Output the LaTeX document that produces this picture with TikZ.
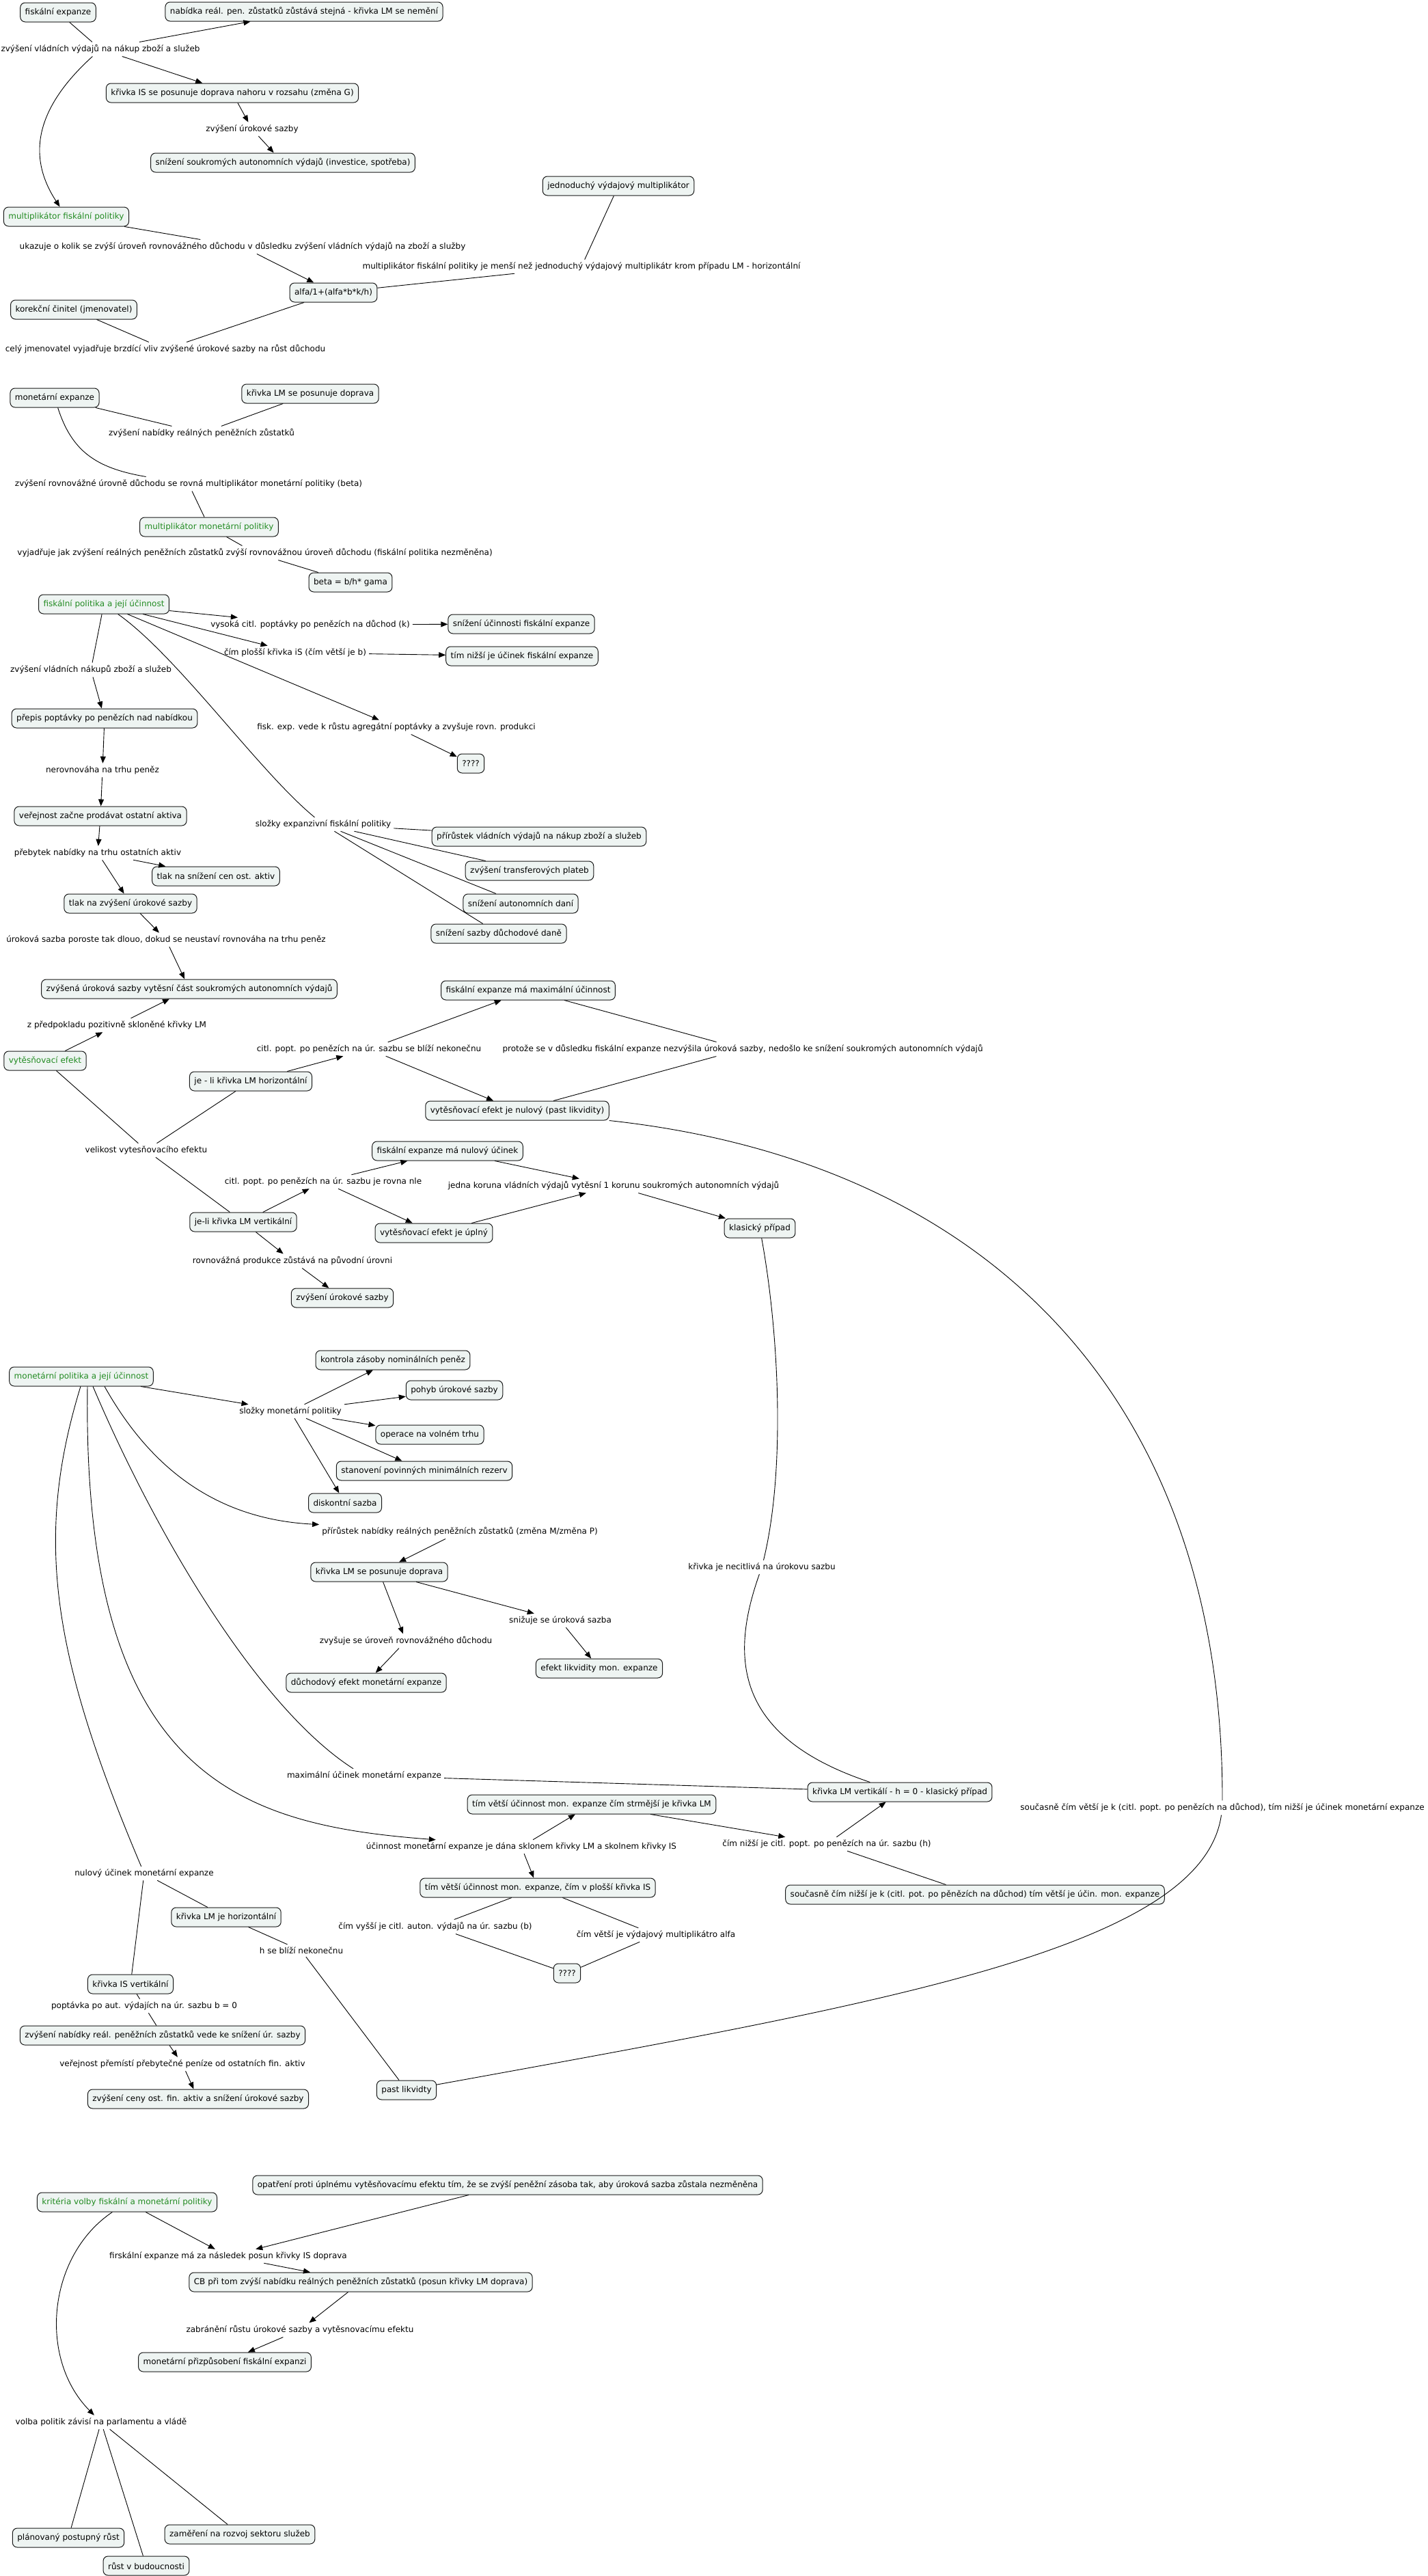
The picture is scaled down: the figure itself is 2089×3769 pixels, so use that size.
\documentclass[tikz,border=0pt]{standalone}
\usepackage{fontspec}
\setmainfont{DejaVu Sans}
\usetikzlibrary{arrows.meta}
\definecolor{boxfill}{RGB}{238,244,242}
\definecolor{topicgreen}{RGB}{34,139,34}

\begin{document}
\begin{tikzpicture}[x=1pt,y=-1pt,
        concept/.style={draw=black!90,fill=boxfill,rounded corners=7pt,line width=1pt,inner xsep=7pt,minimum height=28pt,font=\fontsize{12}{14}\selectfont},
        topic/.style={concept,text=topicgreen},
        link/.style={inner sep=4pt,font=\fontsize{12}{14}\selectfont},
        con/.style={line width=0.9pt},
        arr/.style={con,-{Triangle[length=10pt,width=8pt]}}]
        \useasboundingbox (0,0) rectangle (2089,3769);
        % fiskalni expanze
        \node[concept] (fe) at (85,18) {fiskální expanze};
        \node[concept] (nab) at (445,17) {nabídka reál. pen. zůstatků zůstává stejná - křivka LM se nemění};
        \node[link] (lzvys) at (147,72) {zvýšení vládních výdajů na nákup zboží a služeb};
        \node[concept] (ispos) at (340,136) {křivka IS se posunuje doprava nahoru v rozsahu (změna G)};
        \node[link] (lurok) at (369,189) {zvýšení úrokové sazby};
        \node[concept] (sniz) at (414,238) {snížení soukromých autonomních výdajů (investice, spotřeba)};
        \node[topic] (mfp) at (97,317) {multiplikátor fiskální politiky};
        \node[link] (lukaz) at (355,361) {ukazuje o kolik se zvýší úroveň rovnovážného důchodu v důsledku zvýšení vládních výdajů na zboží a služby};
        \node[concept] (alfa) at (488,428) {alfa/1+(alfa*b*k/h)};
        \node[link] (lmfpm) at (851,390) {multiplikátor fiskální politiky je menší než jednoduchý výdajový multiplikátr krom případu LM - horizontální};
        \node[concept] (jvm) at (905,272) {jednoduchý výdajový multiplikátor};
        \node[concept] (kc) at (108,453) {korekční činitel (jmenovatel)};
        \node[link] (lcely) at (242,511) {celý jmenovatel vyjadřuje brzdící vliv zvýšené úrokové sazby na růst důchodu};
        \draw[con] (fe) -- (lzvys);
        \draw[arr] (lzvys) -- (nab);
        \draw[arr] (lzvys) -- (ispos);
        \draw[arr] (lzvys) .. controls (50,160) and (40,230) .. (mfp);
        \draw[arr] (ispos) -- (lurok);
        \draw[arr] (lurok) -- (sniz);
        \draw[con] (mfp) -- (lukaz);
        \draw[arr] (lukaz) -- (alfa);
        \draw[con] (alfa) -- (lmfpm);
        \draw[con] (lmfpm) -- (jvm);
        \draw[con] (kc) -- (lcely);
        \draw[con] (alfa) -- (lcely);
        % monetarni expanze
        \node[concept] (me) at (80,582) {monetární expanze};
        \node[concept] (lmd1) at (454,576) {křivka LM se posunuje doprava};
        \node[link] (lzvn) at (295,634) {zvýšení nabídky reálných peněžních zůstatků};
        \node[link] (lzvr) at (276,708) {zvýšení rovnovážné úrovně důchodu se rovná multiplikátor monetární politiky (beta)};
        \node[topic] (mmp) at (306,771) {multiplikátor monetární politiky};
        \node[link] (lvyj) at (373,809) {vyjadřuje jak zvýšení reálných peněžních zůstatků zvýší rovnovážnou úroveň důchodu (fiskální politika nezměněna)};
        \node[concept] (beta) at (513,852) {beta = b/h* gama};
        \draw[con] (me) -- (lzvn);
        \draw[con] (lmd1) -- (lzvn);
        \draw[con] (me) .. controls (105,660) and (140,685) .. (lzvr);
        \draw[con] (lzvr) -- (mmp);
        \draw[con] (mmp) -- (lvyj);
        \draw[con] (lvyj) -- (beta);
        % fiskalni politika
        \node[topic] (fp) at (152,884) {fiskální politika a její účinnost};
        \node[link] (lvys) at (454,914) {vysoká citl. poptávky po penězích na důchod (k)};
        \node[concept] (snuc) at (763,913) {snížení účinnosti fiskální expanze};
        \node[link] (lcim) at (432,955) {čím plošší křivka iS (čím větší je b)};
        \node[concept] (tnu) at (764,960) {tím nižší je účinek fiskální expanze};
        \node[link] (lzvn2) at (133,980) {zvýšení vládních nákupů zboží a služeb};
        \node[concept] (prep) at (153,1051) {přepis poptávky po penězích nad nabídkou};
        \node[link] (lnerov) at (150,1127) {nerovnováha na trhu peněz};
        \node[concept] (ver) at (147,1194) {veřejnost začne prodávat ostatní aktiva};
        \node[link] (lpreb) at (143,1248) {přebytek nabídky na trhu ostatních aktiv};
        \node[concept] (tlak1) at (316,1282) {tlak na snížení cen ost. aktiv};
        \node[concept] (tlak2) at (191,1322) {tlak na zvýšení úrokové sazby};
        \node[link] (lurp) at (243,1375) {úroková sazba poroste tak dlouo, dokud se neustaví rovnováha na trhu peněz};
        \node[concept] (zvu) at (277,1447) {zvýšená úroková sazby vytěsní část soukromých autonomních výdajů};
        \node[link] (lzpred) at (171,1500) {z předpokladu pozitivně skloněné křivky LM};
        \node[topic] (vyt) at (66,1552) {vytěsňovací efekt};
        \node[link] (lfisk) at (580,1064) {fisk. exp. vede k růstu agregátní poptávky a zvyšuje rovn. produkci};
        \node[concept] (qa) at (689,1117) {????};
        \node[link] (lslozky) at (473,1206) {složky expanzivní fiskální politiky};
        \node[concept] (pri) at (789,1224) {přírůstek vládních výdajů na nákup zboží a služeb};
        \node[concept] (tra) at (775,1274) {zvýšení transferových plateb};
        \node[concept] (sad) at (762,1322) {snížení autonomních daní};
        \node[concept] (ssd) at (730,1366) {snížení sazby důchodové daně};
        \draw[arr] (fp) -- (lvys);
        \draw[arr] (lvys) -- (snuc);
        \draw[arr] (fp) -- (lcim);
        \draw[arr] (lcim) -- (tnu);
        \draw[con] (fp) -- (lzvn2);
        \draw[arr] (lzvn2) -- (prep);
        \draw[arr] (prep) -- (lnerov);
        \draw[arr] (lnerov) -- (ver);
        \draw[arr] (ver) -- (lpreb);
        \draw[arr] (lpreb) -- (tlak1);
        \draw[arr] (lpreb) -- (tlak2);
        \draw[arr] (tlak2) -- (lurp);
        \draw[arr] (lurp) -- (zvu);
        \draw[arr] (vyt) -- (lzpred);
        \draw[arr] (lzpred) -- (zvu);
        \draw[arr] (fp) -- (lfisk);
        \draw[arr] (lfisk) -- (qa);
        \draw[con] (fp) .. controls (260,960) and (380,1130) .. (lslozky);
        \draw[con] (lslozky) -- (pri);
        \draw[con] (lslozky) -- (tra);
        \draw[con] (lslozky) -- (sad);
        \draw[con] (lslozky) -- (ssd);
        % velikost vytesnovaciho efektu
        \node[concept] (fmax) at (773,1449) {fiskální expanze má maximální účinnost};
        \node[link] (lcitl1) at (540,1535) {citl. popt. po penězích na úr. sazbu se blíží nekonečnu};
        \node[link] (lprot) at (1087,1535) {protože se v důsledku fiskální expanze nezvýšila úroková sazby, nedošlo ke snížení soukromých autonomních výdajů};
        \node[concept] (jelh) at (367,1582) {je - li křivka LM horizontální};
        \node[concept] (vnul) at (757,1625) {vytěsňovací efekt je nulový (past likvidity)};
        \node[link] (lvel) at (214,1683) {velikost vytesňovacího efektu};
        \node[concept] (fnul) at (655,1684) {fiskální expanze má nulový účinek};
        \node[link] (lcitl2) at (473,1729) {citl. popt. po penězích na úr. sazbu je rovna nle};
        \node[link] (ljedna) at (898,1735) {jedna koruna vládních výdajů vytěsní 1 korunu soukromých autonomních výdajů};
        \node[concept] (jelv) at (356,1788) {je-li křivka LM vertikální};
        \node[concept] (vupl) at (635,1804) {vytěsňovací efekt je úplný};
        \node[concept] (klas) at (1112,1797) {klasický případ};
        \node[link] (lrovp) at (428,1845) {rovnovážná produkce zůstává na původní úrovni};
        \node[concept] (zus) at (501,1899) {zvýšení úrokové sazby};
        \node[link] (lkriv) at (1115,2293) {křivka je necitlivá na úrokovu sazbu};
        \node[link] (lsoucas) at (1789,2645) {současně čím větší je k (citl. popt. po penězích na důchod), tím nižší je účinek monetární expanze};
        \draw[con] (vyt) -- (lvel);
        \draw[con] (jelh) -- (lvel);
        \draw[con] (lvel) -- (jelv);
        \draw[arr] (jelh) -- (lcitl1);
        \draw[arr] (lcitl1) -- (fmax);
        \draw[arr] (lcitl1) -- (vnul);
        \draw[con] (fmax) -- (lprot);
        \draw[con] (vnul) -- (lprot);
        \draw[arr] (jelv) -- (lcitl2);
        \draw[arr] (lcitl2) -- (fnul);
        \draw[arr] (lcitl2) -- (vupl);
        \draw[arr] (fnul) -- (ljedna);
        \draw[arr] (vupl) -- (ljedna);
        \draw[arr] (ljedna) -- (klas);
        \draw[arr] (jelv) -- (lrovp);
        \draw[arr] (lrovp) -- (zus);
        \draw[con] (vnul) .. controls (1450,1700) and (1790,2050) .. (lsoucas);
        \draw[con] (klas) .. controls (1140,1950) and (1150,2150) .. (lkriv);
        % monetarni politika
        \node[topic] (mp) at (119,2014) {monetární politika a její účinnost};
        \node[link] (lslm) at (425,2065) {složky monetární politiky};
        \node[concept] (kzn) at (575,1990) {kontrola zásoby nominálních peněz};
        \node[concept] (pus) at (665,2034) {pohyb úrokové sazby};
        \node[concept] (ovt) at (629,2099) {operace na volném trhu};
        \node[concept] (spm) at (621,2152) {stanovení povinných minimálních rezerv};
        \node[concept] (dis) at (505,2199) {diskontní sazba};
        \node[link] (lprir) at (673,2241) {přírůstek nabídky reálných peněžních zůstatků (změna M/změna P)};
        \node[concept] (lmd2) at (555,2300) {křivka LM se posunuje doprava};
        \node[link] (lzvy) at (594,2401) {zvyšuje se úroveň rovnovážného důchodu};
        \node[link] (lsnizu) at (820,2371) {snižuje se úroková sazba};
        \node[concept] (efl) at (877,2441) {efekt likvidity mon. expanze};
        \node[concept] (dem) at (536,2462) {důchodový efekt monetární expanze};
        \node[link] (lmax) at (533,2598) {maximální účinek monetární expanze};
        \node[concept] (lmv) at (1317,2622) {křivka LM vertikálí - h = 0 - klasický případ};
        \node[concept] (tvu1) at (866,2640) {tím větší účinnost mon. expanze čím strmější je křivka LM};
        \node[link] (lcimn) at (1210,2698) {čím nižší je citl. popt. po penězích na úr. sazbu (h)};
        \node[concept] (sou2) at (1427,2772) {současně čím nižší je k (citl. pot. po pěnězích na důchod) tím větší je účin. mon. expanze};
        \node[link] (lucin) at (763,2702) {účinnost monetární expanze je dána sklonem křivky LM a skolnem křivky IS};
        \node[concept] (tvu2) at (787,2762) {tím větší účinnost mon. expanze, čím v plošší křivka IS};
        \node[link] (lvyssi) at (637,2819) {čím vyšší je citl. auton. výdajů na úr. sazbu (b)};
        \node[link] (lvetsi) at (960,2831) {čím větší je výdajový multiplikátro alfa};
        \node[concept] (qb) at (830,2887) {????};
        \node[link] (lnul) at (211,2741) {nulový účinek monetární expanze};
        \node[concept] (klh) at (331,2805) {křivka LM je horizontální};
        \node[link] (lhse) at (441,2854) {h se blíží nekonečnu};
        \node[concept] (past) at (595,3058) {past likvidty};
        \node[concept] (kisv) at (191,2903) {křivka IS vertikální};
        \node[link] (lpopt) at (211,2935) {poptávka po aut. výdajích na úr. sazbu b = 0};
        \node[concept] (zvr) at (238,2978) {zvýšení nabídky reál. peněžních zůstatků vede ke snížení úr. sazby};
        \node[link] (lvprem) at (267,3020) {veřejnost přemístí přebytečné peníze od ostatních fin. aktiv};
        \node[concept] (zvc) at (290,3071) {zvýšení ceny ost. fin. aktiv a snížení úrokové sazby};
        \draw[arr] (mp) -- (lslm);
        \draw[arr] (lslm) -- (kzn);
        \draw[arr] (lslm) -- (pus);
        \draw[arr] (lslm) -- (ovt);
        \draw[arr] (lslm) -- (spm);
        \draw[arr] (lslm) -- (dis);
        \draw[arr] ([xshift=34pt]mp.south) .. controls (210,2130) and (300,2222) .. (lprir);
        \draw[arr] (lprir) -- (lmd2);
        \draw[arr] (lmd2) -- (lzvy);
        \draw[arr] (lmd2) -- (lsnizu);
        \draw[arr] (lsnizu) -- (efl);
        \draw[arr] (lzvy) -- (dem);
        \draw[con] ([xshift=17pt]mp.south) .. controls (230,2250) and (380,2500) .. (lmax);
        \draw[con] (lmax) -- (lmv);
        \draw[con] (lkriv) .. controls (1070,2420) and (1070,2540) .. (lmv);
        \draw[arr] ([xshift=9pt]mp.south) .. controls (120,2600) and (350,2670) .. ([xshift=106pt]lucin.north west);
        \draw[arr] (lucin) -- (tvu1);
        \draw[arr] (lucin) -- (tvu2);
        \draw[arr] (tvu1) -- (lcimn);
        \draw[arr] (lcimn) -- (lmv);
        \draw[con] (lcimn) -- (sou2);
        \draw[con] (tvu2) -- (lvyssi);
        \draw[con] (tvu2) -- (lvetsi);
        \draw[con] (lvyssi) -- (qb);
        \draw[con] (lvetsi) -- (qb);
        \draw[con] ([xshift=-1pt]mp.south) .. controls (50,2250) and (75,2420) .. (lnul);
        \draw[con] (lnul) -- (kisv);
        \draw[con] (lnul) -- (klh);
        \draw[con] (klh) -- (lhse);
        \draw[con] (lhse) -- (past);
        \draw[con] (lsoucas) .. controls (1760,2850) and (1300,2930) .. (past);
        \draw[con] (kisv) -- (lpopt);
        \draw[con] (lpopt) -- (zvr);
        \draw[arr] (zvr) -- (lvprem);
        \draw[arr] (lvprem) -- (zvc);
        % kriteria volby
        \node[topic] (krit) at (186,3222) {kritéria volby fiskální a monetární politiky};
        \node[concept] (opat) at (743,3197) {opatření proti úplnému vytěsňovacímu efektu tím, že se zvýší peněžní zásoba tak, aby úroková sazba zůstala nezměněna};
        \node[link] (lfirs) at (334,3301) {firskální expanze má za následek posun křivky IS doprava};
        \node[concept] (cb) at (528,3339) {CB při tom zvýší nabídku reálných peněžních zůstatků (posun křivky LM doprava)};
        \node[link] (lzabr) at (439,3409) {zabránění růstu úrokové sazby a vytěsnovacímu efektu};
        \node[concept] (mpfe) at (329,3456) {monetární přizpůsobení fiskální expanzi};
        \node[link] (lvolba) at (148,3544) {volba politik závisí na parlamentu a vládě};
        \node[concept] (plan) at (100,3713) {plánovaný postupný růst};
        \node[concept] (rust) at (214,3754) {růst v budoucnosti};
        \node[concept] (zam) at (351,3708) {zaměření na rozvoj sektoru služeb};
        \draw[arr] (krit) -- (lfirs);
        \draw[arr] (opat) -- (lfirs);
        \draw[arr] (lfirs) -- (cb);
        \draw[arr] (cb) -- (lzabr);
        \draw[arr] (lzabr) -- (mpfe);
        \draw[arr] (krit) .. controls (70,3300) and (55,3450) .. (lvolba);
        \draw[con] (lvolba) -- (plan);
        \draw[con] (lvolba) -- (rust);
        \draw[con] (lvolba) -- (zam);
\end{tikzpicture}
\end{document}
